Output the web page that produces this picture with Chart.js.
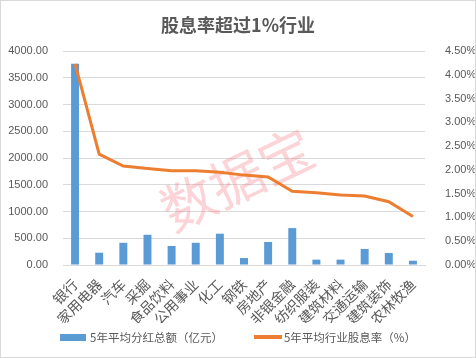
<!DOCTYPE html>
<html>
<head>
<meta charset="utf-8">
<script src="https://cdn.jsdelivr.net/npm/chart.js@4/dist/chart.umd.min.js"></script>
<style>
  html, body { margin: 0; padding: 0; background: #fff; }
  #wrap { position: relative; width: 474px; height: 356px; border: 1px solid #d9d9d9; }
  #chart { display: block; }
  #legend {
    position: absolute; left: 0; top: 329px; width: 474px;
    display: flex; justify-content: center; align-items: center; gap: 31px;
    font: 11.5px "Noto Sans CJK SC"; color: #595959; line-height: 14px;
  }
  #legend .item { display: flex; align-items: center; }
  #legend .bar { width: 26px; height: 7px; background: #5B9BD5; margin-right: 4px; }
  #legend .line { width: 28px; height: 4px; background: #ED7D31; margin-right: 2px; }
</style>
</head>
<body>
<div id="wrap">
  <canvas id="chart" width="474" height="356"></canvas>
  <div id="legend"></div>
</div>
<script>
// industries with dividend yield above 1%
const industries = ['银行', '家用电器', '汽车', '采掘', '食品饮料', '公用事业', '化工', '钢铁',
  '房地产', '非银金融', '纺织服装', '建筑材料', '交通运输', '建筑装饰', '农林牧渔'];

// 5-year average total dividends (100 million yuan)
const dividendTotal = [3760, 230, 415, 565, 355, 415, 585, 130, 430, 690, 100, 100, 300, 225, 80];

// 5-year average dividend yield (%)
const dividendYield = [4.23, 2.33, 2.08, 2.03, 1.98, 1.98, 1.95, 1.89, 1.85, 1.55, 1.52, 1.47, 1.45, 1.33, 1.02];

const greyText = '#595959';

// watermark drawn behind the marks
const watermark = {
  id: 'watermark',
  beforeDatasetsDraw(chart) {
    const ctx = chart.ctx;
    ctx.save();
    ctx.translate(236, 178);
    ctx.rotate(-0.45);
    ctx.font = '54px "Noto Sans CJK SC"';
    ctx.fillStyle = 'rgba(245, 120, 130, 0.33)';
    ctx.textAlign = 'center';
    ctx.textBaseline = 'middle';
    ctx.fillText('数据宝', 0, 0);
    ctx.restore();
  }
};

const ctx = document.getElementById('chart').getContext('2d');
const chart = new Chart(ctx, {
  data: {
    labels: industries,
    datasets: [
      {
        type: 'bar',
        label: '5年平均分红总额（亿元）',
        data: dividendTotal,
        yAxisID: 'y',
        backgroundColor: '#5B9BD5',
        barPercentage: 0.33,
        categoryPercentage: 1,
        order: 1
      },
      {
        type: 'line',
        label: '5年平均行业股息率（%）',
        data: dividendYield,
        yAxisID: 'y1',
        borderColor: '#ED7D31',
        backgroundColor: '#ED7D31',
        borderWidth: 3,
        pointRadius: 0,
        tension: 0,
        order: 0
      }
    ]
  },
  options: {
    responsive: false,
    animation: false,
    layout: { padding: { left: 0, right: 0, top: 0, bottom: 34 } },
    plugins: {
      title: {
        display: true,
        text: '股息率超过1%行业',
        color: greyText,
        font: { family: '"Noto Sans CJK SC"', size: 18, weight: 'bold' },
        padding: { top: 13, bottom: 15.4 }
      },
      legend: { display: false },
      tooltip: { enabled: false }
    },
    scales: {
      x: {
        grid: { display: false },
        border: { color: '#d9d9d9' },
        ticks: {
          color: greyText,
          font: { family: '"Noto Sans CJK SC"', size: 14 },
          maxRotation: 45,
          minRotation: 45,
          autoSkip: false
        },
        // fixed height so the plot sits where the original one does
        afterFit(scale) {
          scale.height = 58;
          scale.paddingLeft = 0;
          scale.paddingRight = 0;
        }
      },
      y: {
        position: 'left',
        min: 0,
        max: 4000,
        grid: { color: '#d9d9d9', drawTicks: false },
        border: { display: false },
        ticks: {
          stepSize: 500,
          color: greyText,
          font: { family: '"Liberation Sans"', size: 11 },
          padding: 15,
          callback: v => v.toFixed(2)
        },
        afterFit(scale) { scale.width = 62; }
      },
      y1: {
        position: 'right',
        min: 0,
        max: 4.5,
        grid: { display: false },
        border: { display: false },
        ticks: {
          stepSize: 0.5,
          color: greyText,
          font: { family: '"Liberation Sans"', size: 11 },
          padding: 12,
          callback: v => v.toFixed(2) + '%'
        },
        afterFit(scale) { scale.width = 50; }
      }
    }
  },
  plugins: [watermark]
});

// html legend below the plot, built from the datasets
const legendEl = document.getElementById('legend');
chart.data.datasets.forEach(ds => {
  const item = document.createElement('div');
  item.className = 'item';
  const swatch = document.createElement('span');
  swatch.className = ds.type === 'bar' ? 'bar' : 'line';
  const label = document.createElement('span');
  label.textContent = ds.label;
  item.appendChild(swatch);
  item.appendChild(label);
  legendEl.appendChild(item);
});
</script>
</body>
</html>
